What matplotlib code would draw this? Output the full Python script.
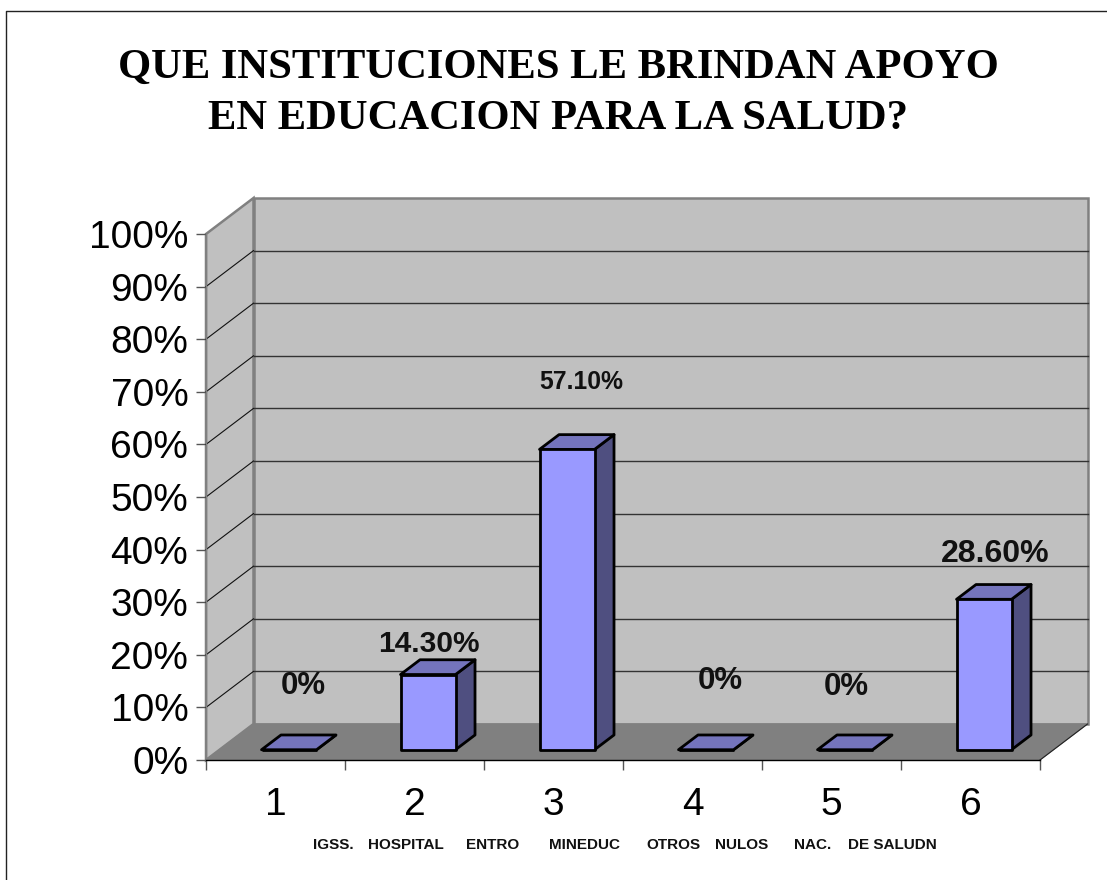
"""3D-look bar chart: instituciones que brindan apoyo en educacion para la salud."""

import matplotlib
matplotlib.use("Agg")
import matplotlib.pyplot as plt
from matplotlib.lines import Line2D
from matplotlib.patches import Polygon

W, H = 1107, 880

categories = ["1", "2", "3", "4", "5", "6"]
values = [0, 14.3, 57.1, 0, 0, 28.6]
value_labels = ["0%", "14.30%", "57.10%", "0%", "0%", "28.60%"]
y_ticks = list(range(0, 101, 10))
title = "QUE INSTITUCIONES LE BRINDAN APOYO\nEN EDUCACION PARA LA SALUD?"
sub_labels = ["IGSS.", "HOSPITAL", "ENTRO", "MINEDUC", "OTROS", "NULOS", "NAC.", "DE SALUDN"]

# placement of the free-floating texts, in axis units
label_x = [0.70, 1.60, 2.70, 3.70, 4.61, 5.68]
label_y = [14.1, 22.1, 71.9, 15.0, 13.9, 39.1]
label_size = [22.5, 21.5, 17.8, 22.5, 22.5, 23]
sub_x = [0.77, 1.165, 1.87, 2.47, 3.17, 3.66, 4.23, 4.62]

# depth of the box and of the bars
DX, DY = 47.5 / 139, 36 / 5.26
BAR_W = 55 / 139
BAR_NEAR, BAR_FAR = 0.285, 0.695

FRONT = "#9999FF"
TOP = "#7474BC"
SIDE = "#4F4F80"
WALL = "#C0C0C0"
FLOOR = "#808080"


def main():
    plt.rcParams["font.family"] = ["Liberation Sans", "DejaVu Sans"]
    fig = plt.figure(figsize=(W / 100, H / 100), dpi=100, facecolor="white")
    ax = fig.add_axes([206 / W, (H - 760) / H, 834 / W, 526 / H])
    ax.set_xlim(0, 6)
    ax.set_ylim(0, 100)
    ax.patch.set_visible(False)

    # walls and floor
    ax.add_patch(Polygon([(DX, DY), (6 + DX, DY), (6 + DX, 100 + DY), (DX, 100 + DY)],
                         fc=WALL, ec=FLOOR, lw=1.8, clip_on=False, zorder=1))
    ax.add_patch(Polygon([(0, 0), (DX, DY), (DX, 100 + DY), (0, 100)],
                         fc=WALL, ec=FLOOR, lw=1.8, clip_on=False, zorder=1))
    ax.add_patch(Polygon([(0, 0), (6, 0), (6 + DX, DY), (DX, DY)],
                         fc=FLOOR, ec=FLOOR, lw=0.8, clip_on=False, zorder=2))

    for t in y_ticks[1:-1]:
        ax.plot([DX, 6 + DX], [t + DY, t + DY], color="#333333", lw=1.0, clip_on=False, zorder=2)
        ax.plot([0, DX], [t, t + DY], color="#111111", lw=0.8, clip_on=False, zorder=2)

    # bars
    for i, v in enumerate(values):
        x0 = i + 0.5 - BAR_W / 2 + BAR_NEAR * DX
        x1 = x0 + BAR_W
        y0 = BAR_NEAR * DY
        sx = (BAR_FAR - BAR_NEAR) * DX
        sy = (BAR_FAR - BAR_NEAR) * DY
        style = dict(ec="black", lw=2.0, joinstyle="round", clip_on=False, zorder=3)
        ax.add_patch(Polygon([(x1, y0), (x1 + sx, y0 + sy), (x1 + sx, y0 + sy + v), (x1, y0 + v)],
                             fc=SIDE, **style))
        ax.add_patch(Polygon([(x0, y0 + v), (x1, y0 + v), (x1 + sx, y0 + sy + v), (x0 + sx, y0 + sy + v)],
                             fc=TOP, **style))
        ax.add_patch(Polygon([(x0, y0), (x1, y0), (x1, y0 + v), (x0, y0 + v)],
                             fc=FRONT, **style))

    for x, y, s, fs in zip(label_x, label_y, value_labels, label_size):
        ax.text(x, y, s, ha="center", va="center", fontsize=fs, fontweight="bold",
                color="#111111", zorder=4)

    # axes
    for side in ("top", "right"):
        ax.spines[side].set_visible(False)
    ax.spines["left"].set_color(FLOOR)
    ax.spines["left"].set_linewidth(1.0)
    ax.spines["bottom"].set_color("black")
    ax.spines["bottom"].set_linewidth(1.0)
    ax.spines["bottom"].set_zorder(5)
    ax.plot([6, 6 + DX], [0, DY], color="#222222", lw=0.8, clip_on=False, zorder=2)

    ax.set_yticks(y_ticks)
    ax.set_yticklabels([f"{t}%" for t in y_ticks], fontsize=28)
    ax.tick_params(axis="y", length=7.2, width=1.0, color="#555555", pad=5.5)
    ax.set_xticks(range(7))
    ax.set_xticklabels([])
    ax.tick_params(axis="x", which="major", length=7.2, width=1.0, color="#555555")
    ax.set_xticks([i + 0.5 for i in range(6)], minor=True)
    ax.set_xticklabels(categories, minor=True, fontsize=28)
    ax.tick_params(axis="x", which="minor", length=0, pad=19.5)

    for x, s in zip(sub_x, sub_labels):
        ax.text(x, -16.1, s, ha="left", va="center", fontsize=11, fontweight="bold",
                color="#111111", clip_on=False)

    # title and the page frame (top and left edges only)
    fig.text(558 / W, 1 - 93.5 / H, title, ha="center", va="center", fontsize=30.7,
             fontweight="bold", family=["Liberation Serif", "DejaVu Serif"],
             linespacing=1.42)
    fig.add_artist(Line2D([6 / W, 6 / W, 1], [0, 1 - 11 / H, 1 - 11 / H], color="#222222", lw=1.0))

    fig.savefig("out.png", dpi=100)
    plt.close(fig)


if __name__ == "__main__":
    main()
